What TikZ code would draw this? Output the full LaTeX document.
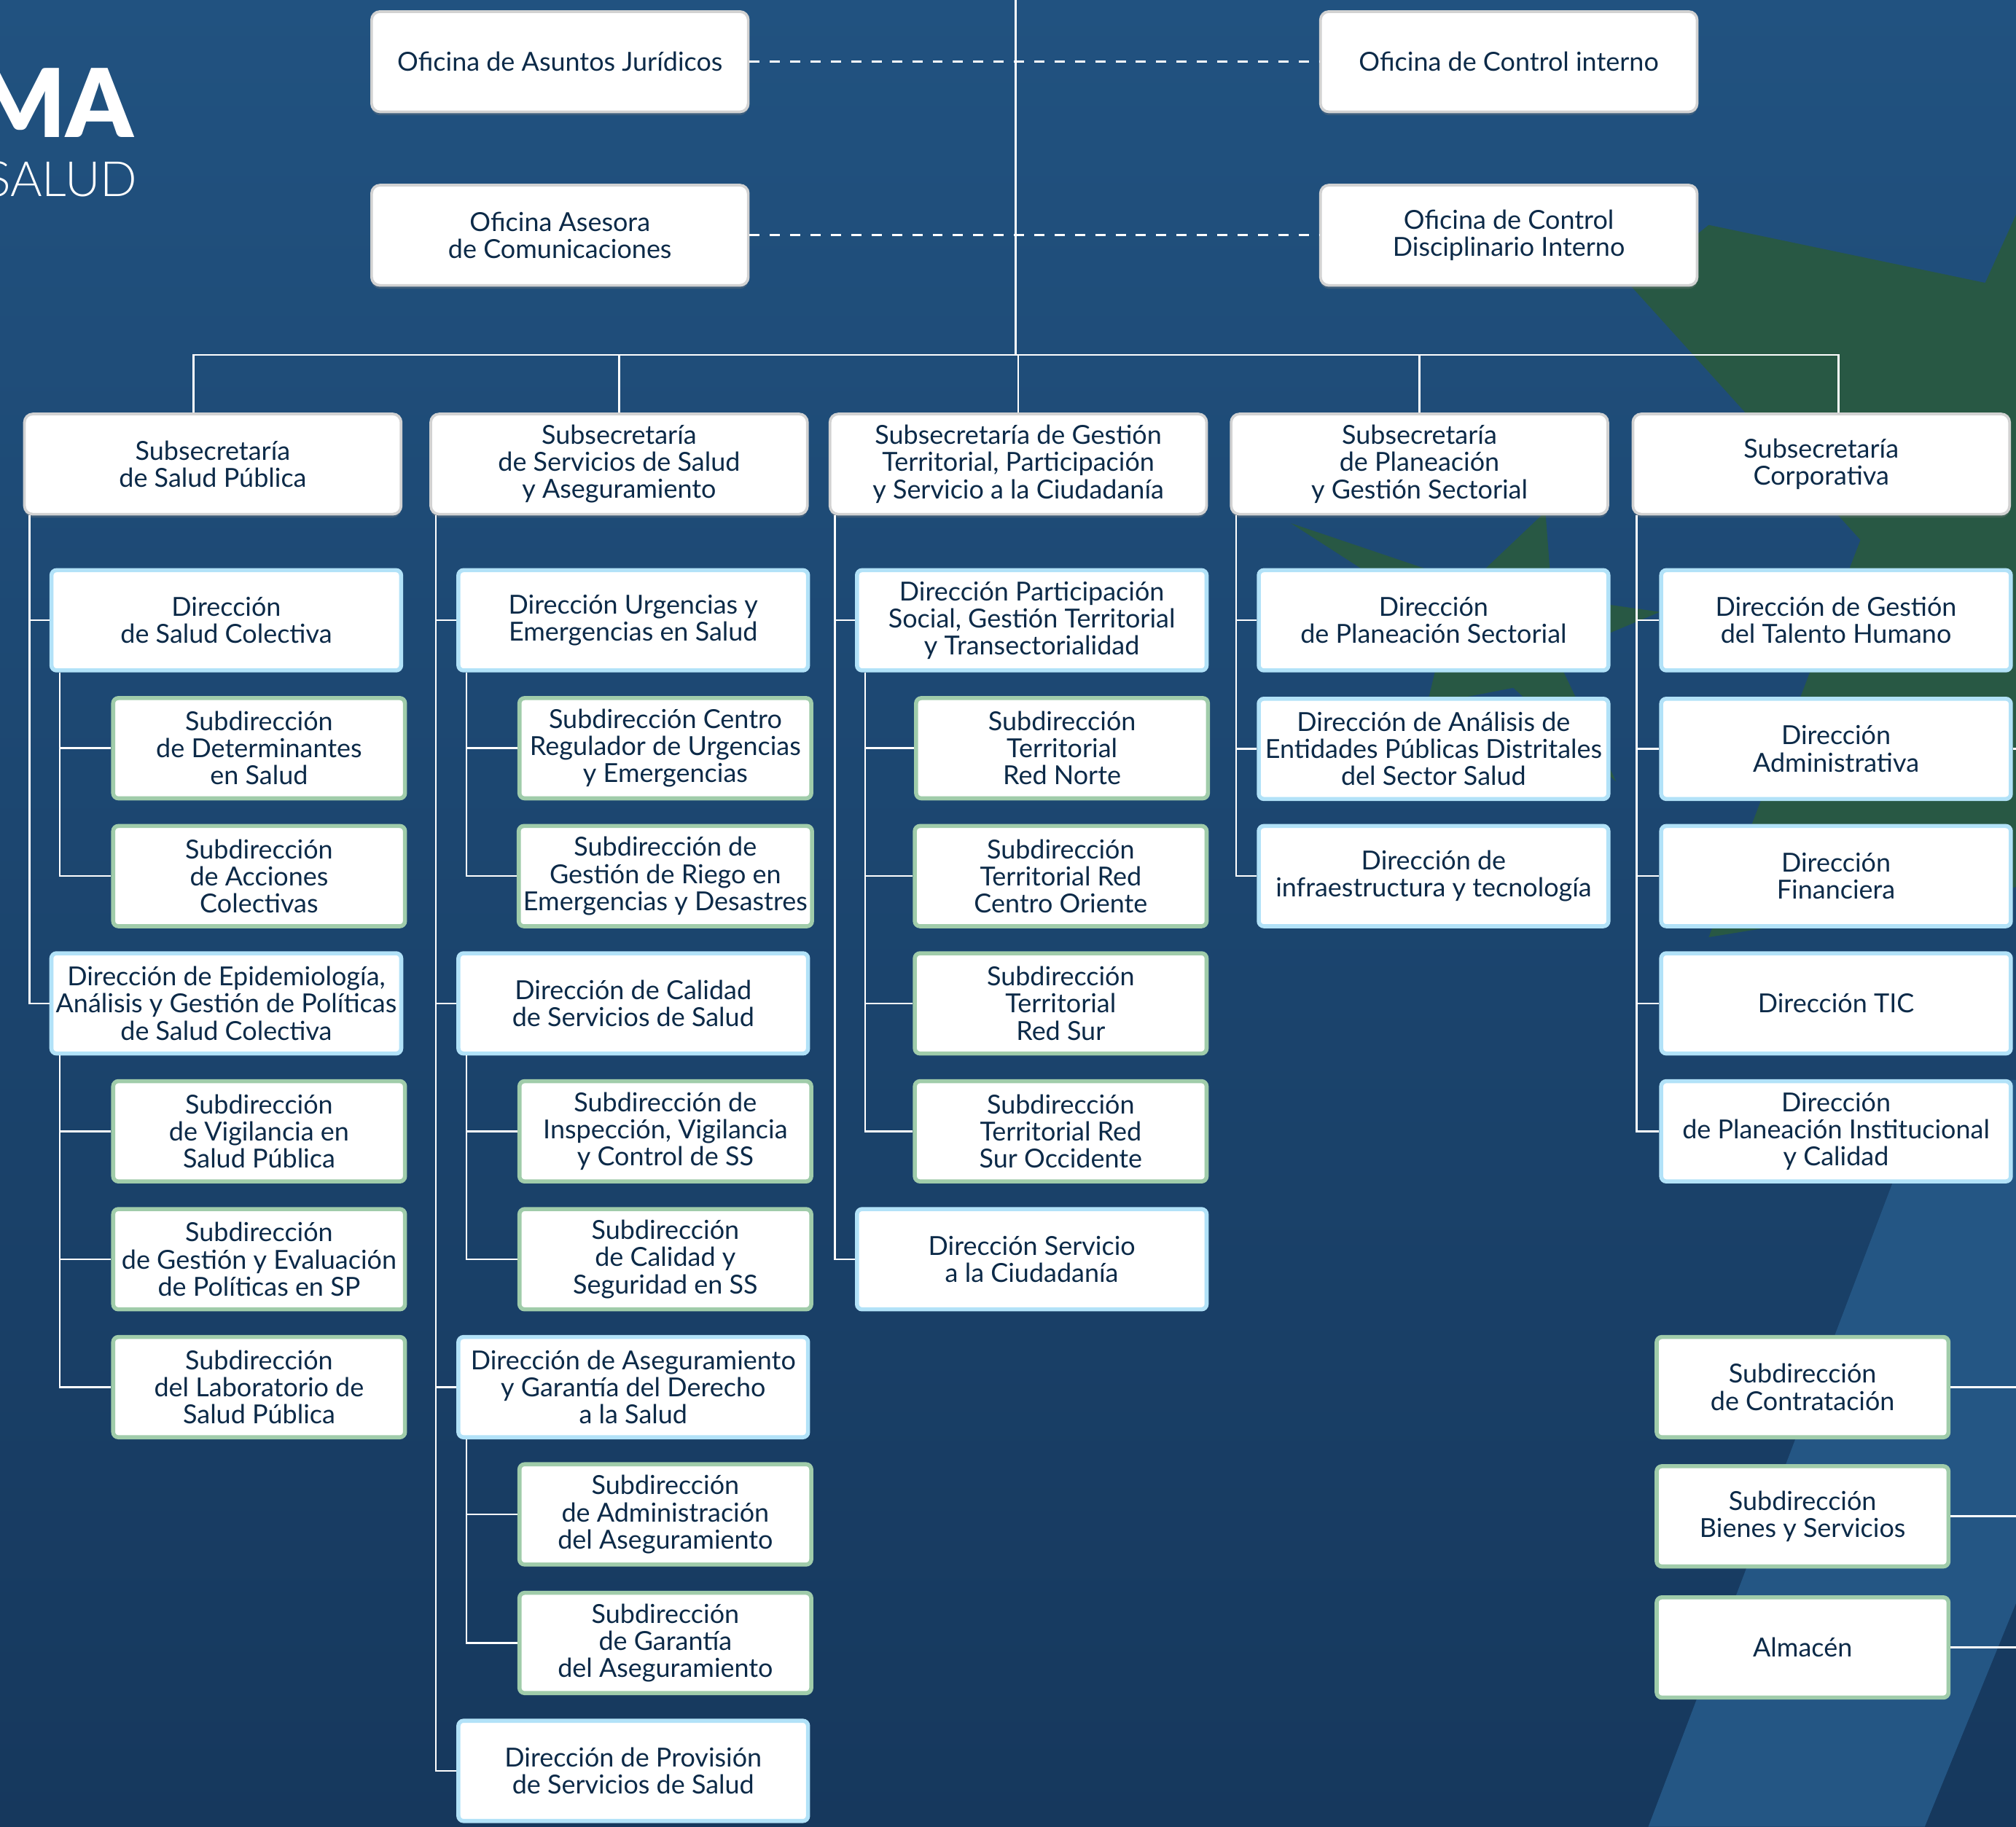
\documentclass[tikz,border=0pt]{standalone}
\usepackage{fontspec}
\setmainfont{Lato}
\IfFontExistsTF{Lato Light}{\newfontfamily\lightfont{Lato Light}}{\newfontfamily\lightfont{Lato}}
\IfFontExistsTF{Lato Black}{\newfontfamily\blackfont{Lato Black}}{\newfontfamily\blackfont{Lato}[FakeBold=0]}
\usetikzlibrary{shadows}

\definecolor{fondo}{RGB}{33,82,128}
\definecolor{fondooscuro}{RGB}{22,56,93}
\definecolor{verde}{RGB}{40,88,68}
\definecolor{azulclaro}{RGB}{36,86,132}
\definecolor{texto}{RGB}{12,42,72}
\definecolor{brillo}{RGB}{178,226,248}
\definecolor{brillov}{RGB}{160,204,170}

\tikzset{
  caja/.style={fill=white, align=center, text=texto, inner sep=2pt,
    font=\fontsize{11.6}{12}\selectfont, minimum height=1.56cm},
  subsec/.style={caja, draw=gray!35, line width=1.2pt, rounded corners=0.13cm,
    minimum width=5.86cm, drop shadow={opacity=0.3, shadow xshift=0pt, shadow yshift=-1.5pt}},
  direc/.style={caja, draw=brillo, line width=1.8pt, rounded corners=0.08cm, minimum width=5.44cm},
  subdir/.style={caja, draw=brillov, line width=1.8pt, rounded corners=0.08cm, minimum width=4.54cm},
  enlace/.style={draw=white, line width=0.8pt},
  punteado/.style={enlace, line width=1pt, dash pattern=on 4.5pt off 4.5pt},
}

\begin{document}
\begin{tikzpicture}[x=0.02cm, y=-0.02cm]
\useasboundingbox (0,0) rectangle (1568,1421);
\clip (0,0) rectangle (1568,1421);
%%% fondo
\shade[top color=fondo, bottom color=fondooscuro] (0,0) rectangle (1568,1421);
\fill[verde] (1269,223) -- (1329,175) -- (1544,220) -- (1568,167) -- (1568,690)
  -- (1329,729) -- (1447,420) -- cycle;
\fill[verde] (1004,407) -- (1143,454) -- (1202,398) -- (1207,464) -- (1291,476)
  -- (1210,510) -- (1257,608) -- (1177,535) -- (1110,548) -- (1125,485) -- cycle;
\fill[azulclaro] (1501,840) -- (1568,840) -- (1568,1247) -- (1497,1421)
  -- (1282,1421) -- (1472,920) -- cycle;

%%% titulo
\node[anchor=base east, text=white, font=\blackfont\fontsize{42}{42}\selectfont] (titulo) at (110,107) {MA};
\node[anchor=base east, text=white, font=\lightfont\fontsize{21.5}{21.5}\selectfont] (subtitulo) at (113,153) {SALUD};

%%% oficinas
\node[subsec] (ofj) at (435.5,48) {Oficina de Asuntos Jurídicos};
\node[subsec] (ofc) at (435.5,183) {Oficina Asesora\\de Comunicaciones};
\node[subsec] (oci) at (1173.5,48) {Oficina de Control interno};
\node[subsec] (ocd) at (1173.5,183) {Oficina de Control\\Disciplinario Interno};

%%% subsecretarias
\node[subsec] (ssp) at (165.5,361) {Subsecretaría\\de Salud Pública};
\node[subsec] (sss) at (481.5,361) {Subsecretaría\\de Servicios de Salud\\y Aseguramiento};
\node[subsec] (sgt) at (792,361) {Subsecretaría de Gestión\\Territorial, Participación\\y Servicio a la Ciudadanía};
\node[subsec] (spg) at (1104,361) {Subsecretaría\\de Planeación\\y Gestión Sectorial};
\node[subsec] (sco) at (1416.5,361) {Subsecretaría\\Corporativa};

%%% salud publica
\node[direc] (dsc) at (176,482.5) {Dirección\\de Salud Colectiva};
\node[subdir] (sdet) at (201.5,582) {Subdirección\\de Determinantes\\en Salud};
\node[subdir] (sacc) at (201.5,681.5) {Subdirección\\de Acciones\\Colectivas};
\node[direc] (depi) at (176,780.5) {Dirección de Epidemiología,\\Análisis y Gestión de Políticas\\de Salud Colectiva};
\node[subdir] (svig) at (201.5,880) {Subdirección\\de Vigilancia en\\Salud Pública};
\node[subdir] (sgev) at (201.5,979.5) {Subdirección\\de Gestión y Evaluación\\de Políticas en SP};
\node[subdir] (slab) at (201.5,1079) {Subdirección\\del Laboratorio de\\Salud Pública};

%%% servicios de salud
\node[direc] (durg) at (492.5,482.5) {Dirección Urgencias y\\Emergencias en Salud};
\node[subdir] (scru) at (517.5,582) {Subdirección Centro\\Regulador de Urgencias\\y Emergencias};
\node[subdir] (sgrd) at (517.5,681.5) {Subdirección de\\Gestión de Riego en\\Emergencias y Desastres};
\node[direc] (dcal) at (492.5,780.5) {Dirección de Calidad\\de Servicios de Salud};
\node[subdir] (sivc) at (517.5,880) {Subdirección de\\Inspección, Vigilancia\\y Control de SS};
\node[subdir] (scss) at (517.5,979.5) {Subdirección\\de Calidad y\\Seguridad en SS};
\node[direc] (dase) at (492.5,1079) {Dirección de Aseguramiento\\y Garantía del Derecho\\a la Salud};
\node[subdir] (sadm) at (517.5,1178) {Subdirección\\de Administración\\del Aseguramiento};
\node[subdir] (sgar) at (517.5,1278) {Subdirección\\de Garantía\\del Aseguramiento};
\node[direc] (dpro) at (492.5,1377.5) {Dirección de Provisión\\de Servicios de Salud};

%%% gestion territorial
\node[direc] (dpar) at (802.5,482.5) {Dirección Participación\\Social, Gestión Territorial\\y Transectorialidad};
\node[subdir] (stn) at (826,582) {Subdirección\\Territorial\\Red Norte};
\node[subdir] (stco) at (825,681.5) {Subdirección\\Territorial Red\\Centro Oriente};
\node[subdir] (sts) at (825,780.5) {Subdirección\\Territorial\\Red Sur};
\node[subdir] (stso) at (825,880) {Subdirección\\Territorial Red\\Sur Occidente};
\node[direc] (dsci) at (802.5,979.5) {Dirección Servicio\\a la Ciudadanía};

%%% planeacion
\node[direc] (dps) at (1115,482.5) {Dirección\\de Planeación Sectorial};
\node[direc] (dae) at (1115,582.5) {Dirección de Análisis de\\Entidades Públicas Distritales\\del Sector Salud};
\node[direc] (dit) at (1115,681.5) {Dirección de\\infraestructura y tecnología};

%%% corporativa
\node[direc] (dth) at (1428,482.5) {Dirección de Gestión\\del Talento Humano};
\node[direc] (dadm) at (1428,582.5) {Dirección\\Administrativa};
\node[direc] (dfin) at (1428,681.5) {Dirección\\Financiera};
\node[direc] (dtic) at (1428,780.5) {Dirección TIC};
\node[direc] (dpic) at (1428,880) {Dirección\\de Planeación Institucional\\y Calidad};
\node[subdir] (scon) at (1402,1079) {Subdirección\\de Contratación};
\node[subdir] (sbys) at (1402,1179.5) {Subdirección\\Bienes y Servicios};
\node[subdir] (salm) at (1402,1281.5) {Almacén};

%%% lineas
\coordinate (cima) at (790,0);
\coordinate (barra) at (790,276);
\coordinate (borde) at (1568,0);
\draw[punteado] (ofj) -- (oci);
\draw[punteado] (ofc) -- (ocd);
\draw[enlace] (cima) -- (barra);
\draw[enlace] (barra) -| ([xshift=-0.3cm]ssp.north);
\draw[enlace] (barra) -| (sss.north);
\draw[enlace] (barra) -| (sgt.north);
\draw[enlace] (barra) -| (spg.north);
\draw[enlace] (barra) -| ([xshift=0.27cm]sco.north);

\foreach \d in {dsc,depi} \draw[enlace] (ssp.south west) ++(5,0) |- (\d.west);
\foreach \s in {sdet,sacc} \draw[enlace] (dsc.south west) ++(8,0) |- (\s.west);
\foreach \s in {svig,sgev,slab} \draw[enlace] (depi.south west) ++(8,0) |- (\s.west);

\foreach \d in {durg,dcal,dase,dpro} \draw[enlace] (sss.south west) ++(5,0) |- (\d.west);
\foreach \s in {scru,sgrd} \draw[enlace] (durg.south west) ++(8,0) |- (\s.west);
\foreach \s in {sivc,scss} \draw[enlace] (dcal.south west) ++(8,0) |- (\s.west);
\foreach \s in {sadm,sgar} \draw[enlace] (dase.south west) ++(8,0) |- (\s.west);

\foreach \d in {dpar,dsci} \draw[enlace] (sgt.south west) ++(5,0) |- (\d.west);
\foreach \s in {stn,stco,sts,stso} \draw[enlace] (dpar.south west) ++(8,0) |- (\s.west);

\foreach \d in {dps,dae,dit} \draw[enlace] (spg.south west) ++(5,0) |- (\d.west);
\foreach \d in {dth,dadm,dfin,dtic,dpic} \draw[enlace] (sco.south west) ++(4,0) |- (\d.west);

\foreach \s in {dadm,scon,sbys,salm} \draw[enlace] (\s.east) -- (\s.east -| borde);
\end{tikzpicture}
\end{document}
